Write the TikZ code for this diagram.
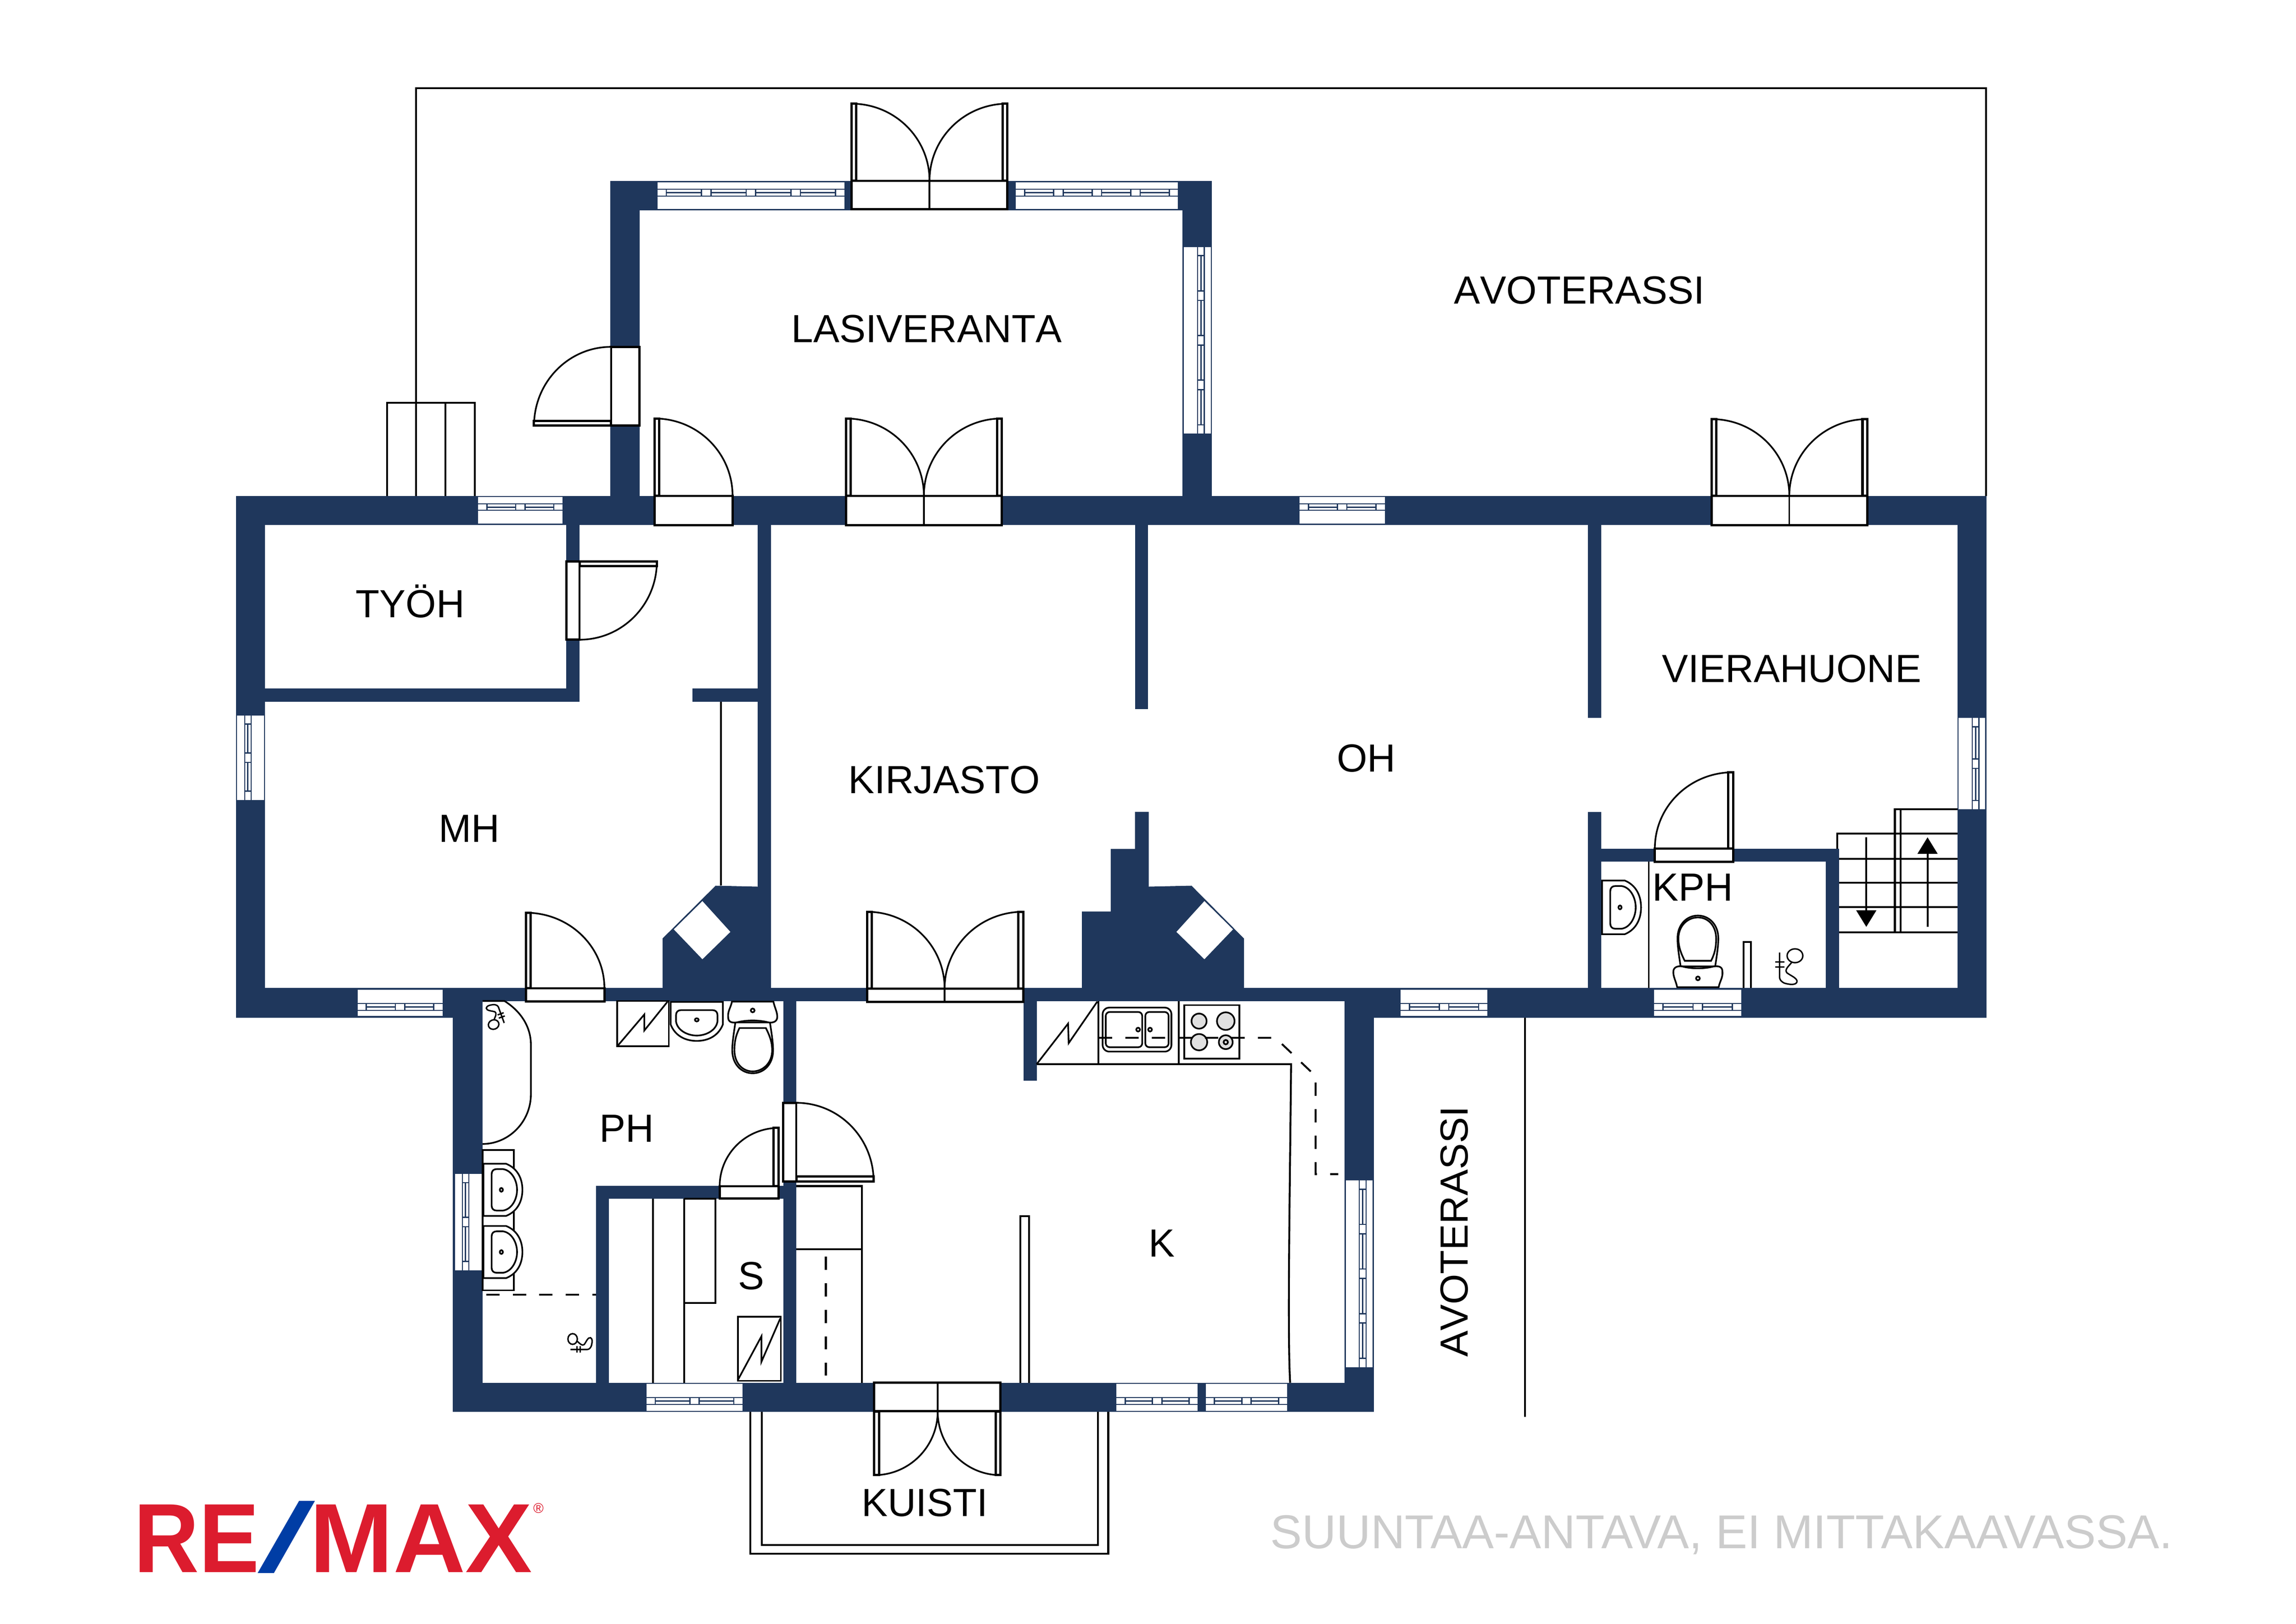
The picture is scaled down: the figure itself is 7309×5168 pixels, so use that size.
\documentclass[tikz,border=0pt]{standalone}
\usepackage{fontspec}
\setmainfont[Kerning=Off]{Liberation Sans}
\usetikzlibrary{calc,arrows.meta}
\definecolor{wallblue}{HTML}{1F375C}
\definecolor{logored}{HTML}{DC1C2E}
\definecolor{logoblue}{HTML}{003DA5}
\definecolor{notegray}{HTML}{CCCCCC}
\definecolor{plategray}{HTML}{E0E0E0}
\tikzset{
  wall/.style={fill=wallblue},
  doorline/.style={draw=black,line width=2.1pt,fill=white},
  arcline/.style={draw=black,line width=1.5pt},
  plainline/.style={draw=black,line width=1.7pt},
  fixture/.style={draw=black,line width=1.5pt,fill=white},
  dashline/.style={draw=black,line width=1.7pt,dash pattern=on 12pt off 12pt},
  stairarrow/.style={draw=black,line width=1.7pt,-{Triangle[length=15pt,width=18pt]}},
  roomlabel/.style={font=\fontsize{35.5}{40}\selectfont,inner sep=0pt,anchor=base},
  logolabel/.style={font=\fontsize{89}{90}\selectfont\bfseries,inner sep=0pt,anchor=base west},
  sinkbowl/.pic={
    \draw[fixture] (0,-83) -- (72,-83) .. controls (105,-70) and (124,-40) .. (124,0) .. controls (124,40) and (105,70) .. (72,83) -- (0,83) -- cycle;
    \draw[fixture] (26,-50) .. controls (26,-60) and (32,-66) .. (42,-66) -- (62,-66) .. controls (90,-62) and (107,-30) .. (107,0) .. controls (107,30) and (90,62) .. (62,66) -- (42,66) .. controls (32,66) and (26,60) .. (26,50) -- cycle;
    \draw[fixture] (57,0) ellipse (5 and 6);
  },
  wcbowl/.pic={
    \draw[fixture] (-55,66) .. controls (-60,100) and (-65,130) .. (-65,155) .. controls (-65,200) and (-35,228) .. (0,228) .. controls (35,228) and (65,200) .. (65,155) .. controls (65,130) and (60,100) .. (55,66) -- cycle;
    \draw[fixture] (-42,84) -- (42,84) .. controls (55,110) and (62,130) .. (62,155) .. controls (62,195) and (33,222) .. (0,222) .. controls (-33,222) and (-58,195) .. (-58,155) .. controls (-58,130) and (-55,110) .. (-42,84) -- cycle;
    \draw[fixture] (-66,0) -- (66,0) .. controls (70,20) and (80,35) .. (78,52) .. controls (76,66) and (60,68) .. (50,66) .. controls (20,58) and (-20,58) .. (-50,66) .. controls (-65,68) and (-78,66) .. (-78,50) .. controls (-80,30) and (-70,20) .. (-66,0) -- cycle;
    \draw[fixture] (0,28) circle (6);
  },
  showertap/.pic={
    \draw[arcline,line width=1.3pt] (18,-34) ellipse (25 and 22);
    \draw[arcline,line width=1.3pt] (7,-12) .. controls (-5,2) and (-15,10) .. (-8,20) .. controls (5,30) and (28,38) .. (24,50) .. controls (20,60) and (0,58) .. (-16,53) .. controls (-26,48) and (-31,42) .. (-31,34) -- (-31,-44);
    \draw[arcline,line width=1.3pt] (-45,-14) -- (-15,-14) (-45,2) -- (-15,2);
  }
}
\newcommand\doorleaf[3]{%
  \draw[doorline,line width=1.5pt] (#1) -- (#2) .. controls ($(#2)+0.5523*(#3)-0.5523*(#1)$) and ($(#3)+0.5523*(#2)-0.5523*(#1)$) .. (#3) -- cycle;
  \draw[doorline] (#1) -- (#2) -- ($(#2)+($(#1)!0.15cm!(#3)$)-(#1)$) -- ($(#1)!0.15cm!(#3)$) -- cycle;
}
\newcommand\hwindow[6]{%
  \fill[white] (#1,#2) rectangle (#3,#4);
  \fill[wallblue] (#1,#5) rectangle (#3,#5+24);
  \pgfmathsetmacro\panew{(#3-#1-26)/#6}
  \pgfmathtruncatemacro\panelast{#6-1}
  \foreach \n in {0,...,#6} \fill[white] (#1+\n*\panew,#5+3) rectangle (#1+\n*\panew+26,#5+21);
  \foreach \n in {0,...,\panelast} {
    \fill[white] (#1+\n*\panew+30,#5+3) rectangle (#1+\n*\panew+\panew-4,#5+10);
    \fill[white] (#1+\n*\panew+30,#5+14) rectangle (#1+\n*\panew+\panew-4,#5+21);
  }
}
\newcommand\vwindow[6]{%
  \fill[white] (#1,#2) rectangle (#3,#4);
  \fill[wallblue] (#5,#2) rectangle (#5+24,#4);
  \pgfmathsetmacro\panew{(#4-#2-26)/#6}
  \pgfmathtruncatemacro\panelast{#6-1}
  \foreach \n in {0,...,#6} \fill[white] (#5+3,#2+\n*\panew) rectangle (#5+21,#2+\n*\panew+26);
  \foreach \n in {0,...,\panelast} {
    \fill[white] (#5+3,#2+\n*\panew+30) rectangle (#5+10,#2+\n*\panew+\panew-4);
    \fill[white] (#5+14,#2+\n*\panew+30) rectangle (#5+21,#2+\n*\panew+\panew-4);
  }
}
\begin{document}
\begin{tikzpicture}[x=0.01cm,y=-0.01cm]
\useasboundingbox (0,0) rectangle (7309,5168);
% terrace and steps
\draw[plainline] (1325,1578) -- (1325,280) -- (6322,280) -- (6322,1578);
\draw[plainline] (1232,1578) -- (1232,1282) -- (1512,1282) -- (1512,1578);
\draw[plainline] (1418,1282) -- (1418,1578);
\draw[plainline] (4855,3239) -- (4855,4509);
\draw[plainline] (2388,4494) -- (2388,4945) -- (3528,4945) -- (3528,4494);
\draw[plainline] (2425,4494) -- (2425,4917) -- (3495,4917) -- (3495,4494);
% walls
\foreach \xa/\ya/\xb/\yb in {751/1578/6324/1671,751/1578/844/3239,751/3145/1442/3239,1442/3145/4374/3186,4280/3145/6324/3239,6232/1578/6324/3239,
  1943/576/2036/1578,1943/576/3857/669,3764/576/3857/1578,1803/1671/1845/2233,844/2191/1845/2233,2205/2191/2412/2233,2412/1671/2454/3186,
  3614/1671/3655/2257,5055/1671/5097/2285,5055/2584/5097/3144,5097/2702/5854/2743,5812/2702/5854/3145,
  1442/3145/1536/4494,1442/4401/4374/4494,4280/3145/4374/4494,1898/3775/1938/4401,1898/3775/2535/3815,2494/3186/2535/4401,3258/3186/3300/3440}
  \fill[wall] (\xa,\ya) rectangle (\xb,\yb);
% chimneys
\fill[wall] (2109,3150) -- (2109,2987) -- (2278,2819) -- (2412,2822) -- (2454,3150) -- cycle;
\fill[wall] (3444,3150) -- (3444,2901) -- (3536,2901) -- (3536,2702) -- (3613,2702) -- (3613,2584) -- (3657,2584) -- (3657,2822) -- (3793,2819) -- (3960,2987) -- (3960,3150) -- cycle;
\fill[white] (2236,2868) -- (2325,2966) -- (2236,3053) -- (2145,2958) -- cycle;
\fill[white] (3834,2868) -- (3925,2958) -- (3834,3053) -- (3745,2966) -- cycle;
% windows
\hwindow{2093}{580}{2688}{665}{601}{4}
\hwindow{3234}{580}{3750}{665}{601}{4}
\hwindow{1522}{1582}{1791}{1666}{1602}{2}
\hwindow{4137}{1582}{4408}{1666}{1602}{2}
\hwindow{1138}{3150}{1409}{3234}{3193}{2}
\hwindow{4459}{3150}{4735}{3234}{3193}{2}
\hwindow{5266}{3150}{5543}{3234}{3193}{2}
\hwindow{2058}{4405}{2364}{4490}{4447}{2}
\hwindow{3554}{4405}{3813}{4490}{4447}{2}
\hwindow{3838}{4405}{4098}{4490}{4447}{2}
\vwindow{3768}{786}{3855}{1380}{3811}{4}
\vwindow{755}{2277}{840}{2546}{777}{2}
\vwindow{6234}{2285}{6320}{2576}{6277}{2}
\vwindow{1448}{3736}{1534}{4043}{1470}{2}
\vwindow{4284}{3757}{4369}{4351}{4326}{4}
% closet, bath, storage
\draw[plainline] (2295,2233) -- (2295,2819);
\draw[fixture] (1536,3186) -- (1606,3186) .. controls (1660,3220) and (1690,3270) .. (1690,3325) -- (1690,3483) .. controls (1690,3570) and (1620,3641) .. (1536,3641);
\draw[fixture] (1536,3660) rectangle (1636,4107);
\pic at (1539,3787) {sinkbowl};
\pic at (1539,3985) {sinkbowl};
\pic[rotate=-90] at (2218,3189) {sinkbowl};
\pic at (2396,3188) {wcbowl};
\pic[rotate=200,scale=0.68] at (1575,3235) {showertap};
\pic[rotate=90,scale=0.68] at (1846,4274) {showertap};
\draw[fixture] (1965,3186) rectangle (2129,3330);
\draw[arcline] (1965,3330) -- (2051,3229) -- (2051,3280) -- (2125,3188);
\draw[dashline] (1548,4121) -- (1898,4121);
\draw[plainline] (2078,3815) -- (2078,4401);
\draw[plainline] (2178,3815) -- (2178,4401);
\draw[plainline] (2178,3815) -- (2278,3815) -- (2278,4147) -- (2178,4147);
\draw[fixture] (2349,4191) rectangle (2486,4395);
\draw[arcline] (2349,4392) -- (2424,4253) -- (2424,4334) -- (2484,4196);
\draw[plainline] (2535,3775) -- (2744,3775) -- (2744,4401);
\draw[plainline] (2535,3976) -- (2744,3976);
\draw[dashline] (2629,4000) -- (2629,4378);
% kitchen
\draw[plainline] (3300,3387) -- (4110,3387) .. controls (4106,3800) and (4098,4250) .. (4107,4401);
\draw[plainline] (3496,3186) -- (3496,3387);
\draw[plainline] (3753,3186) -- (3753,3387);
\draw[arcline] (3300,3387) -- (3400,3258) -- (3402,3320) -- (3493,3188);
\draw[fixture,rounded corners=6pt] (3510,3207) rectangle (3729,3347);
\draw[fixture,rounded corners=3.5pt] (3520,3221) rectangle (3636,3333);
\draw[fixture,rounded corners=3.5pt] (3646,3221) rectangle (3720,3333);
\draw[fixture] (3623,3277) circle (6);
\draw[fixture] (3661,3277) circle (6);
\draw[fixture] (3770,3199) rectangle (3945,3369);
\foreach \cx/\cy/\cr in {3817/3250/24,3902/3250/28,3817/3317/26,3902/3317/22}
  \draw[fixture,fill=plategray] (\cx,\cy) circle (\cr);
\draw[fixture,fill=plategray] (3902,3317) circle (7);
\draw[dashline] (3498,3303) -- (4060,3303) -- (4188,3425) -- (4188,3737) -- (4260,3737);
\draw[doorline,line width=1.7pt] (3248,4401) -- (3248,3871) -- (3276,3871) -- (3276,4401);
% guest wc and stairs
\draw[plainline,line width=1.3pt] (5249,2743) -- (5249,3144);
\pic[yscale=1.03] at (5100,2888) {sinkbowl};
\pic[rotate=180] at (5405,3142) {wcbowl};
\draw[doorline,line width=1.7pt] (5550,3144) -- (5550,2998) -- (5574,2998) -- (5574,3144);
\pic at (5696,3076) {showertap};
\draw[plainline] (5849,2702) -- (5849,2653) -- (6232,2653);
\draw[plainline] (6032,2967) -- (6032,2576) -- (6232,2576);
\draw[plainline] (6050,2576) -- (6050,2967);
\foreach \sy in {2733,2810,2887,2967} \draw[plainline] (5854,\sy) -- (6232,\sy);
\draw[stairarrow] (5941,2665) -- (5941,2950);
\draw[stairarrow] (6136,2950) -- (6136,2665);
% doors
\draw[doorline] (2711,575) rectangle (3207,666);
\draw[arcline] (2959,575) -- (2959,666);
\doorleaf{2711,575}{2711,330}{2959,575}
\doorleaf{3207,575}{3207,330}{2959,575}
\draw[doorline] (1945,1104) rectangle (2036,1355);
\doorleaf{1945,1355}{1700,1355}{1945,1104}
\draw[doorline] (2084,1578) rectangle (2332,1672);
\doorleaf{2084,1578}{2084,1332}{2332,1578}
\draw[doorline] (2693,1578) rectangle (3189,1672);
\draw[arcline] (2941,1578) -- (2941,1672);
\doorleaf{2693,1578}{2693,1332}{2941,1578}
\doorleaf{3189,1578}{3189,1332}{2941,1578}
\draw[doorline] (5449,1578) rectangle (5944,1671);
\draw[arcline] (5696,1578) -- (5696,1671);
\doorleaf{5449,1578}{5449,1334}{5696,1578}
\doorleaf{5944,1578}{5944,1334}{5696,1578}
\draw[doorline] (1803,1787) rectangle (1845,2036);
\doorleaf{1845,1787}{2091,1787}{1845,2036}
\draw[doorline] (1674,3145) rectangle (1924,3188);
\doorleaf{1674,3145}{1674,2905}{1924,3145}
\draw[doorline] (2760,3146) rectangle (3257,3189);
\draw[arcline] (3007,3146) -- (3007,3189);
\doorleaf{2760,3146}{2760,2902}{3007,3146}
\doorleaf{3257,3146}{3257,2902}{3007,3146}
\draw[doorline] (2493,3510) rectangle (2535,3760);
\doorleaf{2535,3760}{2781,3760}{2535,3510}
\draw[doorline] (2291,3775) rectangle (2478,3814);
\doorleaf{2478,3775}{2478,3590}{2291,3775}
\draw[doorline] (5268,2700) rectangle (5517,2743);
\doorleaf{5517,2700}{5517,2458}{5268,2700}
\draw[doorline] (2783,4401) rectangle (3185,4492);
\draw[arcline] (2985,4401) -- (2985,4492);
\doorleaf{2783,4492}{2783,4695}{2985,4492}
\doorleaf{3185,4492}{3185,4695}{2985,4492}
% room names
\node[roomlabel] (lasiveranta) at (2950,1090) {LASIVERANTA};
\node[roomlabel] (avoterassi) at (5028,967) {AVOTERASSI};
\node[roomlabel] (tyoh) at (1306,1966) {TYÖH};
\node[roomlabel] (mh) at (1494,2680) {MH};
\node[roomlabel] (kirjasto) at (3006,2525) {KIRJASTO};
\node[roomlabel] (oh) at (4349,2457) {OH};
\node[roomlabel] (vierahuone) at (5704,2171) {VIERAHUONE};
\node[roomlabel] (kph) at (5389,2868) {KPH};
\node[roomlabel] (ph) at (1995,3634) {PH};
\node[roomlabel] (s) at (2392,4104) {S};
\node[roomlabel] (k) at (3699,4000) {K};
\node[roomlabel] (kuisti) at (2944,4826) {KUISTI};
\node[roomlabel,rotate=90] (avoterassib) at (4672,3920) {AVOTERASSI};
% logo and note
\node[logolabel,text=logored,xscale=0.92] (logore) at (425,5005) {RE};
\node[logolabel,text=logoblue,xscale=2.1,font=\fontsize{89}{90}\selectfont] (logoslash) at (820,5005) {/};
\node[logolabel,text=logored,xscale=1.02] (logomax) at (985,5005) {MAX};
\node[inner sep=0pt,text=logored,font=\fontsize{12.7}{13}\selectfont] (logomark) at (1714,4800) {®};
\node[inner sep=0pt,anchor=base,text=notegray,font=\fontsize{43}{46}\selectfont\addfontfeature{Kerning=On}] (note) at (5480,4928) {SUUNTAA-ANTAVA, EI MITTAKAAVASSA.};
\end{tikzpicture}
\end{document}
